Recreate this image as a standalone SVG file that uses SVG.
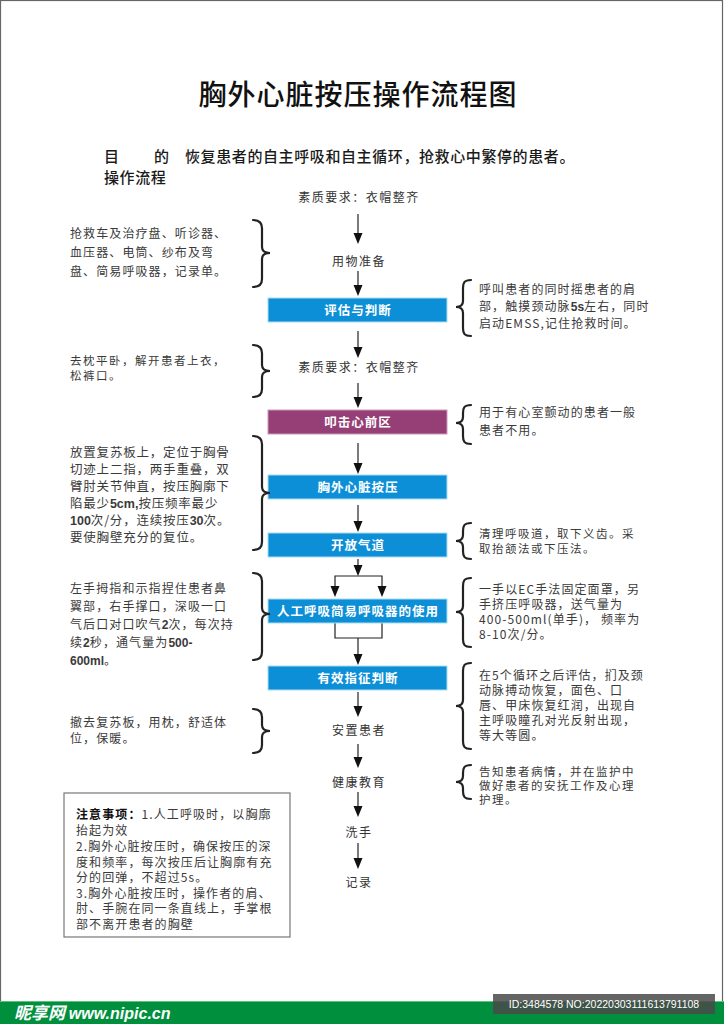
<svg xmlns="http://www.w3.org/2000/svg" width="724" height="1024" viewBox="0 0 724 1024">
<style>
.title{font-family:"Noto Sans CJK SC","Noto Sans",sans-serif;font-size:28px;font-weight:500;fill:#111;letter-spacing:1px}
.head{font-family:"Noto Sans CJK SC","Noto Sans",sans-serif;font-size:15px;font-weight:500;fill:#1a1a1a;letter-spacing:0.6px}
.c{font-family:"Noto Sans CJK SC","Noto Sans",sans-serif;font-size:12px;fill:#333;letter-spacing:1.5px;text-anchor:middle}
.bx{font-family:"Noto Sans CJK SC","Noto Sans",sans-serif;font-size:12.5px;font-weight:700;fill:#fff;letter-spacing:1px;text-anchor:middle}
.t{font-family:"Noto Sans CJK SC","Noto Sans",sans-serif;font-size:12px;fill:#3a3a3a;letter-spacing:1.1px}
.ts{font-family:"Noto Sans CJK SC","Noto Sans",sans-serif;font-size:11.5px;fill:#3a3a3a;letter-spacing:1.5px}
.t3{font-family:"Noto Sans CJK SC","Noto Sans",sans-serif;font-size:12.5px;fill:#3a3a3a;letter-spacing:0.8px}
.b{font-family:"Liberation Sans",Arial,sans-serif;font-weight:700;letter-spacing:0}
.blue{fill:#0d8fd7;stroke:#a8dcf3;stroke-width:1}
.pur{fill:#963f77;stroke:#c99ab8;stroke-width:1}
.ln{stroke:#222;stroke-width:1.2;fill:none}
.br{stroke:#222;stroke-width:2.2;fill:none;stroke-linecap:round}
</style>
<defs>
<path id="hd" d="M-4.5,-11 L4.5,-11 L0,0 Z" fill="#111"/>
</defs>
<rect x="0.5" y="0.5" width="722" height="1023" fill="#fff" stroke="#666" stroke-width="1.2"/>

<g id="title">
<text class="title" x="358" y="105" text-anchor="middle">胸外心脏按压操作流程图</text>
<text class="head" x="104" y="162">目</text>
<text class="head" x="154" y="162">的</text>
<text class="head" x="185" y="162">恢复患者的自主呼吸和自主循环，抢救心中繁停的患者。</text>
<text class="head" x="104" y="183">操作流程</text>
</g>

<g id="connectors">
<line class="ln" x1="358" y1="214" x2="358" y2="240"/><use href="#hd" x="358" y="244"/>
<line class="ln" x1="358" y1="271" x2="358" y2="292"/><use href="#hd" x="358" y="296"/>
<line class="ln" x1="358" y1="331" x2="358" y2="354"/><use href="#hd" x="358" y="358"/>
<line class="ln" x1="358" y1="383" x2="358" y2="404"/><use href="#hd" x="358" y="408"/>
<line class="ln" x1="358" y1="443" x2="358" y2="470"/><use href="#hd" x="358" y="474"/>
<line class="ln" x1="358" y1="505" x2="358" y2="528"/><use href="#hd" x="358" y="532"/>
<line class="ln" x1="358" y1="559" x2="358" y2="572"/><use href="#hd" x="358" y="576"/>
<polyline class="ln" points="335,594 335,576 382,576 382,594"/>
<use href="#hd" x="335" y="597"/><use href="#hd" x="382" y="597"/>
<polyline class="ln" points="335,623 335,638 382,638 382,623"/>
<line class="ln" x1="358" y1="638" x2="358" y2="661"/><use href="#hd" x="358" y="665"/>
<line class="ln" x1="358" y1="692" x2="358" y2="713"/><use href="#hd" x="358" y="717"/>
<line class="ln" x1="358" y1="744" x2="358" y2="764"/><use href="#hd" x="358" y="768"/>
<line class="ln" x1="358" y1="792" x2="358" y2="813"/><use href="#hd" x="358" y="817"/>
<line class="ln" x1="358" y1="843" x2="358" y2="865"/><use href="#hd" x="358" y="869"/>
</g>

<g id="n1"><text class="c" x="359" y="202">素质要求：衣帽整齐</text></g>
<g id="n2"><text class="c" x="359" y="266">用物准备</text></g>
<g id="n3"><rect class="blue" x="268" y="298" width="179" height="24"/><text class="bx" x="358" y="315">评估与判断</text></g>
<g id="n4"><text class="c" x="359" y="372">素质要求：衣帽整齐</text></g>
<g id="n5"><rect class="pur" x="268" y="410" width="179" height="24"/><text class="bx" x="358" y="427">叩击心前区</text></g>
<g id="n6"><rect class="blue" x="268" y="475" width="179" height="24"/><text class="bx" x="358" y="492">胸外心脏按压</text></g>
<g id="n7"><rect class="blue" x="268" y="533" width="179" height="24"/><text class="bx" x="358" y="550">开放气道</text></g>
<g id="n8"><rect class="blue" x="268" y="599" width="179" height="24"/><text class="bx" x="358" y="616">人工呼吸简易呼吸器的使用</text></g>
<g id="n9"><rect class="blue" x="268" y="666" width="179" height="24"/><text class="bx" x="358" y="683">有效指征判断</text></g>
<g id="n10"><text class="c" x="359" y="735">安置患者</text></g>
<g id="n11"><text class="c" x="359" y="787">健康教育</text></g>
<g id="n12"><text class="c" x="359" y="837">洗手</text></g>
<g id="n13"><text class="c" x="359" y="887">记录</text></g>

<g id="left1">
<path class="br" d="M253,220 C260,220 262,223 262,228 L262,247 C262,251 265,253 270,253 C265,253 262,255 262,259 L262,279 C262,284 260,287 253,287"/>
<text class="t" x="70" y="238">抢救车及治疗盘、听诊器、</text>
<text class="t" x="70" y="257">血压器、电筒、纱布及弯</text>
<text class="t" x="70" y="276">盘、简易呼吸器，记录单。</text>
</g>
<g id="left2">
<path class="br" d="M253,345 C260,345 262,348 262,353 L262,365 C262,369 265,371 270,371 C265,371 262,373 262,377 L262,389 C262,394 260,397 253,397"/>
<text class="ts" x="70" y="365">去枕平卧，解开患者上衣，</text>
<text class="ts" x="70" y="380">松裤口。</text>
</g>
<g id="left3">
<path class="br" d="M253,436 C260,436 262,439 262,444 L262,487 C262,491 265,493 270,493 C265,493 262,495 262,499 L262,542 C262,547 260,550 253,550"/>
<text class="t3" x="70" y="457">放置复苏板上，定位于胸骨</text>
<text class="t3" x="70" y="474">切迹上二指，两手重叠，双</text>
<text class="t3" x="70" y="491">臂肘关节伸直，按压胸廓下</text>
<text class="t3" x="70" y="508">陷最少<tspan class="b">5cm,</tspan>按压频率最少</text>
<text class="t3" x="70" y="525"><tspan class="b">100</tspan>次/分，连续按压<tspan class="b">30</tspan>次。</text>
<text class="t3" x="70" y="542">要使胸壁充分的复位。</text>
</g>
<g id="left4">
<path class="br" d="M253,573 C260,573 262,576 262,581 L262,608 C262,612 265,614 270,614 C265,614 262,616 262,620 L262,652 C262,657 260,660 253,660"/>
<text class="t" x="70" y="593">左手拇指和示指捏住患者鼻</text>
<text class="t" x="70" y="611">翼部，右手撑口，深吸一口</text>
<text class="t" x="70" y="629">气后口对口吹气<tspan class="b">2</tspan>次，每次持</text>
<text class="t" x="70" y="647">续<tspan class="b">2</tspan>秒，通气量为<tspan class="b">500-</tspan></text>
<text class="t" x="70" y="665"><tspan class="b">600ml</tspan>。</text>
</g>
<g id="left5">
<path class="br" d="M253,709 C260,709 262,712 262,717 L262,725 C262,729 265,731 270,731 C265,731 262,733 262,737 L262,745 C262,750 260,753 253,753"/>
<text class="t" x="70" y="727">撤去复苏板，用枕，舒适体</text>
<text class="t" x="70" y="743">位，保暖。</text>
</g>

<g id="right1">
<path class="br" d="M471,280 C464,280 463,283 463,288 L463,301 C463,305 460,307 456,307 C460,307 463,309 463,313 L463,328 C463,333 464,336 471,336"/>
<text class="t" x="479" y="294">呼叫患者的同时摇患者的肩</text>
<text class="t" x="479" y="311">部，触摸颈动脉<tspan class="b">5s</tspan>左右，同时</text>
<text class="t" x="479" y="328">启动EMSS,记住抢救时间。</text>
</g>
<g id="right2">
<path class="br" d="M471,405 C464,405 463,408 463,413 L463,417 C463,421 460,423 456,423 C460,423 463,425 463,429 L463,436 C463,441 464,444 471,444"/>
<text class="t" x="479" y="417">用于有心室颤动的患者一般</text>
<text class="t" x="479" y="435">患者不用。</text>
</g>
<g id="right3">
<path class="br" d="M471,523 C464,523 463,526 463,531 L463,535 C463,539 460,541 456,541 C460,541 463,543 463,547 L463,551 C463,556 464,559 471,559"/>
<text class="ts" x="479" y="538">清理呼吸道，取下义齿。采</text>
<text class="ts" x="479" y="553">取抬颔法或下压法。</text>
</g>
<g id="right4">
<path class="br" d="M471,578 C464,578 463,581 463,586 L463,606 C463,610 460,612 456,612 C460,612 463,614 463,618 L463,639 C463,644 464,647 471,647"/>
<text class="t" x="479" y="594">一手以EC手法固定面罩，另</text>
<text class="t" x="479" y="609">手挤压呼吸器，送气量为</text>
<text class="t" x="479" y="624">400-500ml(单手)， 频率为</text>
<text class="t" x="479" y="639">8-10次/分。</text>
</g>
<g id="right5">
<path class="br" d="M471,663 C464,663 463,666 463,671 L463,700 C463,704 460,706 456,706 C460,706 463,708 463,712 L463,741 C463,746 464,749 471,749"/>
<text class="t" x="479" y="680">在5个循环之后评估，扪及颈</text>
<text class="t" x="479" y="695">动脉搏动恢复，面色、口</text>
<text class="t" x="479" y="710">唇、甲床恢复红润，出现自</text>
<text class="t" x="479" y="725">主呼吸瞳孔对光反射出现，</text>
<text class="t" x="479" y="740">等大等圆。</text>
</g>
<g id="right6">
<path class="br" d="M471,765 C464,765 463,768 463,773 L463,776 C463,780 460,782 456,782 C460,782 463,784 463,788 L463,791 C463,796 464,799 471,799"/>
<text class="ts" x="479" y="776">告知患者病情，并在监护中</text>
<text class="ts" x="479" y="790">做好患者的安抚工作及心理</text>
<text class="ts" x="479" y="804">护理。</text>
</g>

<g id="notes">
<rect x="64" y="793" width="226" height="144" fill="#fff" stroke="#777" stroke-width="1.2"/>
<text class="t" x="76" y="819"><tspan font-weight="700" fill="#111">注意事项：</tspan>1.人工呼吸时，以胸廓</text>
<text class="t" x="76" y="835">抬起为效</text>
<text class="t" x="76" y="851">2.胸外心脏按压时，确保按压的深</text>
<text class="t" x="76" y="867">度和频率，每次按压后让胸廓有充</text>
<text class="t" x="76" y="882">分的回弹，不超过5s。</text>
<text class="t" x="76" y="898">3.胸外心脏按压时，操作者的肩、</text>
<text class="t" x="76" y="913">肘、手腕在同一条直线上，手掌根</text>
<text class="t" x="76" y="929">部不离开患者的胸壁</text>
</g>

<g id="footer">
<rect x="0" y="1001" width="724" height="23" fill="#008f3d"/>
<line x1="0" y1="1001.5" x2="724" y2="1001.5" stroke="#5fbf80" stroke-width="1"/>
<text x="14" y="1019" font-family="Noto Sans CJK SC,sans-serif" font-size="17" font-weight="700" font-style="italic" fill="#fff">昵享网 <tspan font-family="Liberation Sans,Arial,sans-serif" font-size="16">www.nipic.cn</tspan></text>
<rect x="493" y="994" width="222" height="20" fill="#4a4a4a" opacity="0.85"/>
<text x="604" y="1008" text-anchor="middle" font-family="Liberation Sans,Arial,sans-serif" font-size="10.5" fill="#fff">ID:3484578 NO:20220303111613791108</text>
</g>
</svg>
